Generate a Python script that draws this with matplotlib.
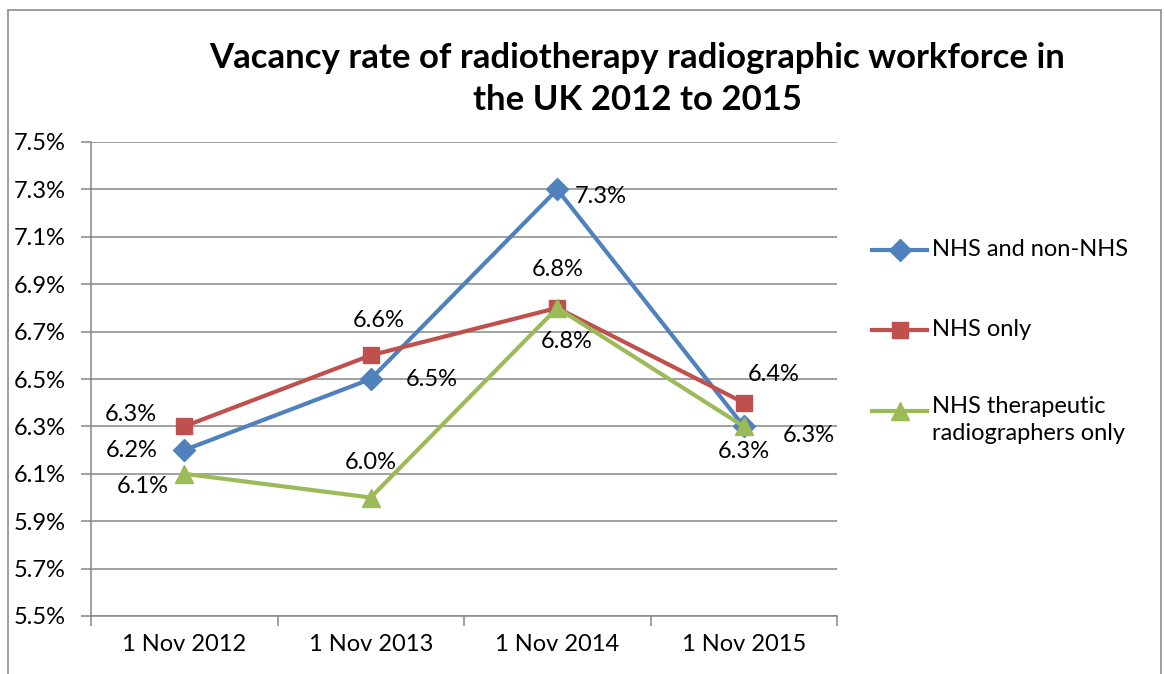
import numpy as np
import matplotlib.pyplot as plt
from matplotlib.lines import Line2D
from matplotlib.patches import Rectangle
from matplotlib.ticker import FixedLocator

plt.rcParams['font.family'] = ['Lato', 'DejaVu Sans']

W, H = 1165, 674

categories = ['1 Nov 2012', '1 Nov 2013', '1 Nov 2014', '1 Nov 2015']
nhs_all = [6.2, 6.5, 7.3, 6.3]
nhs_only = [6.3, 6.6, 6.8, 6.4]
nhs_ther = [6.1, 6.0, 6.8, 6.3]
series_names = ['NHS and non-NHS', 'NHS only', 'NHS therapeutic\nradiographers only']
y_ticks = [5.5, 5.7, 5.9, 6.1, 6.3, 6.5, 6.7, 6.9, 7.1, 7.3, 7.5]

colors = ['#4F81BD', '#C0504D', '#9BBB59']
markers = ['D', 's', '^']
msizes = [11, 12, 13]
# label offsets in pixels (dx right, dy up) per series / point
offsets = [
    [(-53, 0), (61, 0), (44, -7), (65, -9)],
    [(-53, 12), (8, 35), (0, 38), (30, 28)],
    [(-41, -13), (0, 35), (9, -34), (0, -25)],
]
FS = 17

fig = plt.figure(figsize=(W / 100, H / 100), dpi=100)
ax = fig.add_axes([91 / W, 1 - 616 / H, 746 / W, 474 / H])

grid_c = '#868686'
x = np.arange(len(categories))
all_series = [nhs_all, nhs_only, nhs_ther]
for i, vals in enumerate(all_series):
    ax.plot(x, vals, color=colors[i], lw=3, marker=markers[i], ms=msizes[i],
            mec=colors[i], mfc=colors[i], zorder=3 + i, clip_on=False)
    for j, v in enumerate(vals):
        dx, dy = offsets[i][j]
        ax.annotate(f'{v:.1f}%', (x[j], v), xytext=(dx * 0.72, dy * 0.72),
                    textcoords='offset points', ha='center', va='center',
                    fontsize=FS, color='black', zorder=10)

ax.set_xlim(-0.5, len(categories) - 0.5)
ax.set_ylim(5.5, 7.5)
ax.set_yticks(y_ticks)
ax.set_yticklabels([f'{t:.1f}%' for t in y_ticks])
ax.set_xticks(x)
ax.set_xticklabels(categories)
ax.xaxis.set_minor_locator(FixedLocator(np.arange(len(categories) + 1) - 0.5))
ax.tick_params(axis='x', which='major', length=0, pad=13, labelsize=FS)
ax.tick_params(axis='x', which='minor', length=7, width=1.1, color=grid_c)
ax.tick_params(axis='y', length=7, width=1.1, color=grid_c, pad=11, labelsize=FS)
ax.grid(axis='y', color=grid_c, lw=1.1)
ax.set_axisbelow(True)
for s in ['top', 'right']:
    ax.spines[s].set_visible(False)
for s in ['left', 'bottom']:
    ax.spines[s].set_color(grid_c)
    ax.spines[s].set_linewidth(1.1)

fig.text(637 / W, 1 - 79 / H,
         'Vacancy rate of radiotherapy radiographic workforce in\nthe UK 2012 to 2015',
         ha='center', va='center', fontsize=25, fontweight='bold', linespacing=1.35)

# legend drawn by hand, Excel-like spacing
leg_y = [250, 330, 411]
for i, name in enumerate(series_names):
    fy = 1 - leg_y[i] / H
    fig.add_artist(Line2D([872 / W, 927 / W], [fy, fy], color=colors[i], lw=3,
                          transform=fig.transFigure))
    fig.add_artist(Line2D([900 / W], [fy], color=colors[i], marker=markers[i],
                          ms=msizes[i], transform=fig.transFigure))
    if '\n' in name:
        fig.text(932 / W, fy + 15 / H, name, ha='left', va='top', fontsize=FS,
                 linespacing=1.35)
    else:
        fig.text(932 / W, fy, name, ha='left', va='center', fontsize=FS)

fig.add_artist(Rectangle((8 / W, -0.1), 1153 / W, 1.1 - 10 / H, fill=False,
                         edgecolor='#8c8c8c', lw=1.2, transform=fig.transFigure))

fig.savefig('out.png', dpi=100)
